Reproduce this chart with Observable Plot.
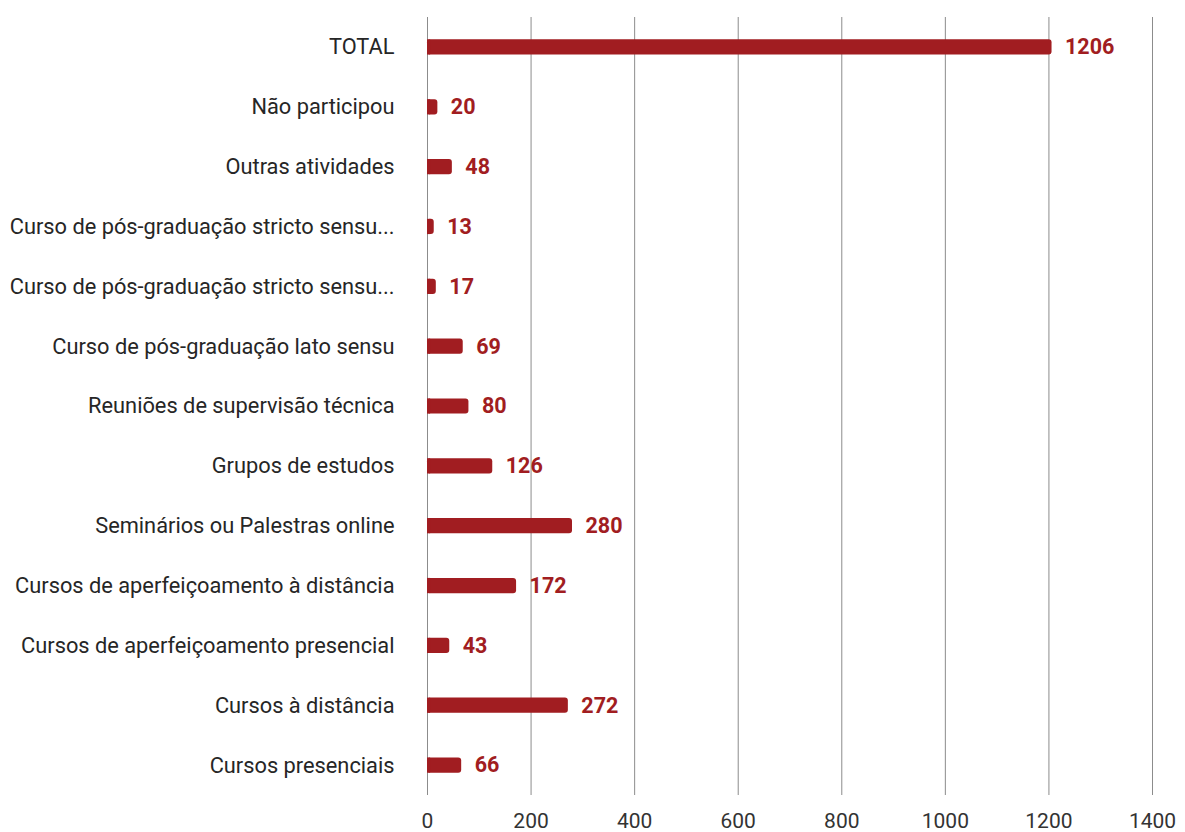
<!DOCTYPE html>
<html>
<head>
<meta charset="utf-8">
<script src="https://cdn.jsdelivr.net/npm/d3@7"></script>
<script src="https://cdn.jsdelivr.net/npm/@observablehq/plot@0.6"></script>
<style>
  html, body { margin: 0; padding: 0; background: #fff; }
  #chart svg { display: block; }
</style>
</head>
<body>
<div id="chart"></div>
<script>
const categories = [
  "TOTAL",
  "Não participou",
  "Outras atividades",
  "Curso de pós-graduação stricto sensu...",
  "Curso de pós-graduação stricto sensu...",
  "Curso de pós-graduação lato sensu",
  "Reuniões de supervisão técnica",
  "Grupos de estudos",
  "Seminários ou Palestras online",
  "Cursos de aperfeiçoamento à distância",
  "Cursos de aperfeiçoamento presencial",
  "Cursos à distância",
  "Cursos presenciais"
];
const values = [1206, 20, 48, 13, 17, 69, 80, 126, 280, 172, 43, 272, 66];
const xTicks = [0, 200, 400, 600, 800, 1000, 1200, 1400];

const data = categories.map((c, i) => ({id: i, label: c, value: values[i]}));
const color = "#a11d21";

const chart = Plot.plot({
  width: 1185,
  height: 832,
  marginLeft: 427,
  marginRight: 33,
  marginTop: 17,
  marginBottom: 37,
  style: {fontFamily: "Roboto, sans-serif", background: "#fff"},
  x: {domain: [0, 1400], ticks: xTicks, label: null},
  y: {domain: data.map(d => d.id), padding: 0, round: false, label: null},
  marks: [
    Plot.ruleX(xTicks, {stroke: "#8c8c8c", strokeWidth: 1}),
    Plot.barX(data, {x: "value", y: "id", fill: color, rx: 3, insetTop: 22.3, insetBottom: 22.3}),
    Plot.barX(data, {x1: 0, x2: d => Math.min(d.value, 6), y: "id", fill: color, insetTop: 22.3, insetBottom: 22.3}),
    Plot.text(data, {x: "value", y: "id", text: d => String(d.value), dx: 13, textAnchor: "start",
      fill: color, fontWeight: "bold", fontSize: 21.5}),
    Plot.axisY({tickSize: 0, tickPadding: 33, tickFormat: i => categories[i],
      fontSize: 21.8, fill: "#262626", label: null}),
    Plot.axisX({ticks: xTicks, tickSize: 0, tickPadding: 18, tickFormat: d => String(d),
      fontSize: 21, fill: "#333", label: null})
  ]
});
document.getElementById("chart").appendChild(chart);
</script>
</body>
</html>
